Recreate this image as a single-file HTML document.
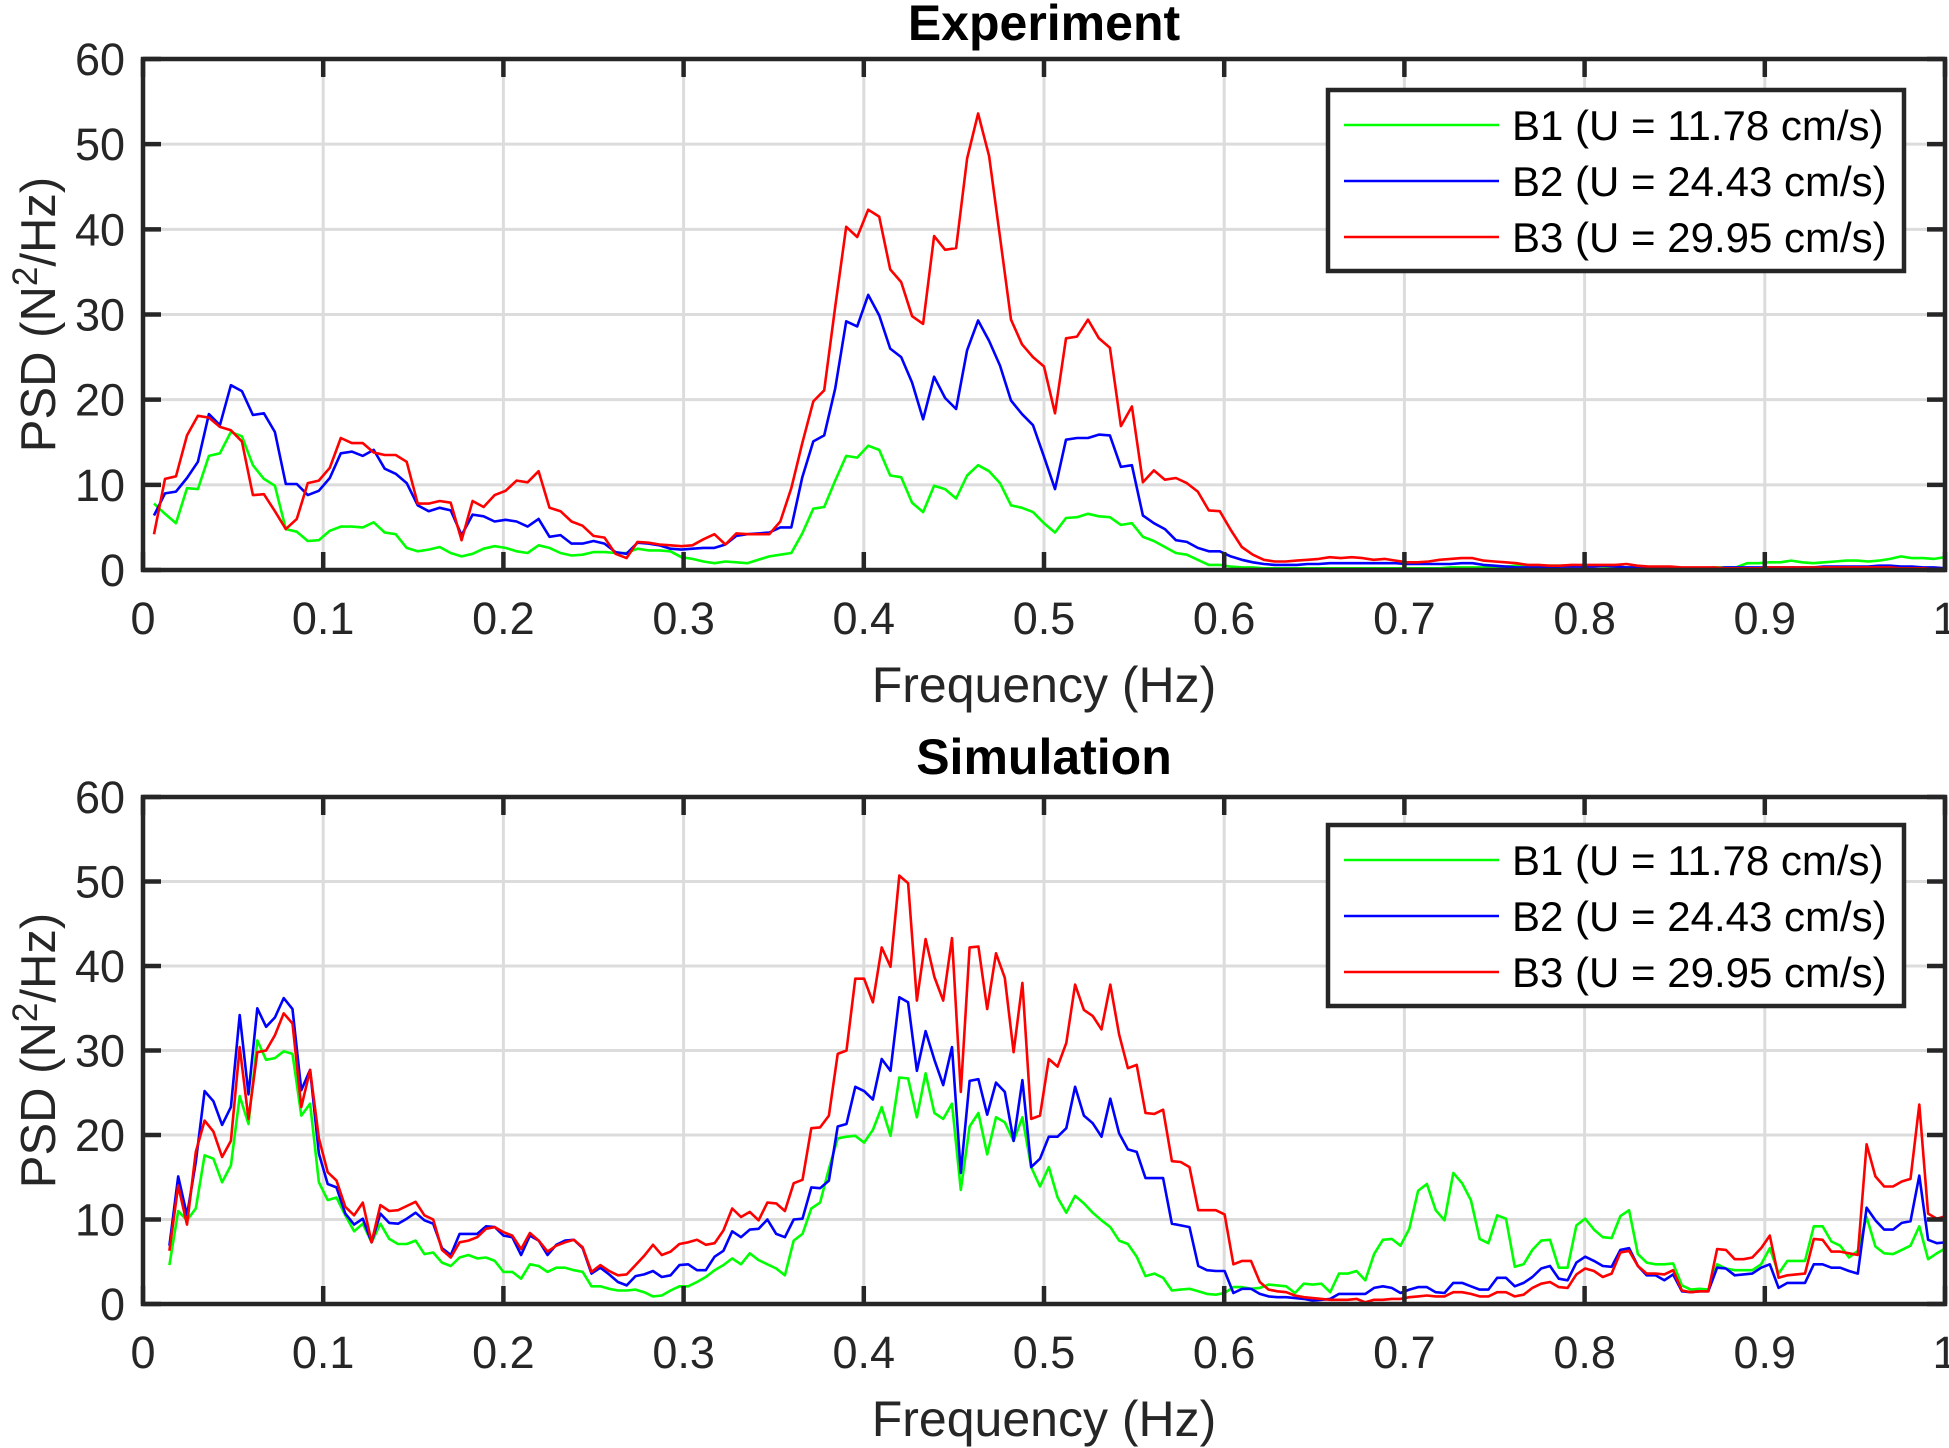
<!DOCTYPE html>
<html><head><meta charset="utf-8"><title>PSD</title>
<style>
html,body{margin:0;padding:0;background:#fff;}
svg{display:block;font-family:"Liberation Sans",Arial,sans-serif;}
</style></head>
<body>
<svg id="fig" width="1949" height="1448" viewBox="0 0 1949 1448" xmlns="http://www.w3.org/2000/svg"></svg>
<script>
// ---------- Data ----------
const expDf = 1/164;            // experiment frequency step (Hz)
const expIdx0 = 1;              // first index
const expB1 = [7.8,6.6,5.5,9.6,9.5,13.4,13.7,16.2,15.7,12.3,10.7,9.9,4.8,4.5,3.4,3.5,4.6,5.1,5.1,5.0,5.6,4.4,4.2,2.6,2.2,2.4,2.7,2.0,1.6,1.9,2.5,2.8,2.6,2.2,2.0,2.9,2.6,2.0,1.7,1.8,2.1,2.1,2.0,2.0,2.5,2.3,2.3,2.2,1.5,1.3,1.0,0.8,1.0,0.9,0.8,1.2,1.6,1.8,2.0,4.3,7.2,7.4,10.5,13.4,13.2,14.6,14.1,11.1,10.9,7.9,6.8,9.9,9.5,8.4,11.1,12.3,11.6,10.2,7.6,7.3,6.8,5.5,4.4,6.1,6.2,6.6,6.3,6.2,5.3,5.5,3.9,3.4,2.7,2.0,1.8,1.2,0.6,0.6,0.4,0.3,
0.3,0.2,0.2,0.2,0.2,0.2,0.2,0.2, 0.2,0.2,0.2,0.2,0.2,0.2,0.2,0.2, 0.2,0.2,0.3,0.3,0.3,0.3,0.3,0.4, 0.5,0.5,0.5,0.5,0.5,0.5,0.5,0.5, 0.4,0.4,0.3,0.3,0.3,0.3,0.3,0.2, 0.2,0.2,0.3,0.3,0.3,0.8,0.8,0.9, 0.9,1.1,0.9,0.8,0.9,1.0,1.1,1.1, 1.0,1.1,1.3,1.6,1.4,1.4,1.3,1.5];
const expB2 = [6.4,9.0,9.2,10.8,12.7,18.3,17.0,21.7,21.0,18.2,18.4,16.2,10.1,10.1,8.8,9.3,10.8,13.7,13.9,13.4,14.1,11.9,11.3,10.2,7.6,6.9,7.3,7.0,4.1,6.5,6.3,5.7,5.9,5.7,5.1,6.0,3.9,4.1,3.1,3.1,3.4,3.1,2.1,1.9,3.2,3.1,2.9,2.5,2.4,2.5,2.6,2.6,3.0,4.0,4.2,4.3,4.4,5.0,5.0,10.9,15.1,15.8,21.3,29.2,28.6,32.3,29.9,26.0,25.0,22.0,17.7,22.7,20.2,18.9,25.8,29.3,26.9,24.0,19.9,18.3,17.0,13.3,9.5,15.3,15.5,15.5,15.9,15.8,12.1,12.3,6.4,5.5,4.8,3.5,3.3,2.6,2.2,2.2,1.6,1.2,
0.9,0.7,0.6,0.6,0.6,0.7,0.7,0.8, 0.8,0.8,0.8,0.8,0.8,0.8,0.7,0.7, 0.7,0.7,0.7,0.8,0.8,0.6,0.5,0.4, 0.3,0.3,0.3,0.3,0.4,0.4,0.4,0.4, 0.5,0.4,0.3,0.3,0.3,0.3,0.2,0.2, 0.2,0.2,0.2,0.3,0.3,0.3,0.3,0.3, 0.3,0.3,0.3,0.3,0.4,0.4,0.4,0.4, 0.4,0.5,0.5,0.4,0.4,0.3,0.3,0.2];
const expB3 = [4.2,10.7,11.0,15.8,18.1,17.9,16.8,16.4,15.1,8.8,8.9,6.9,4.8,6.0,10.2,10.5,12.0,15.5,14.9,14.9,13.8,13.5,13.5,12.7,7.8,7.8,8.1,7.9,3.5,8.1,7.4,8.8,9.3,10.5,10.3,11.6,7.3,6.9,5.7,5.2,4.0,3.8,1.9,1.4,3.3,3.2,3.0,2.9,2.8,2.9,3.6,4.2,3.0,4.3,4.2,4.2,4.2,5.7,9.6,14.9,19.8,21.1,30.9,40.3,39.1,42.3,41.5,35.3,33.8,29.8,28.9,39.2,37.6,37.8,48.3,53.6,48.6,39.1,29.4,26.5,25.0,23.9,18.4,27.2,27.4,29.4,27.2,26.1,16.9,19.2,10.3,11.7,10.6,10.8,10.2,9.2,7.0,6.9,4.7,2.7,
1.8,1.2,1.0,1.0,1.1,1.2,1.3,1.5, 1.4,1.5,1.4,1.2,1.3,1.1,0.9,0.9, 1.0,1.2,1.3,1.4,1.4,1.1,1.0,0.9, 0.8,0.6,0.6,0.5,0.5,0.6,0.6,0.6, 0.6,0.6,0.7,0.5,0.4,0.4,0.4,0.3, 0.3,0.3,0.3,0.2,0.2,0.2,0.2,0.3, 0.3,0.3,0.3,0.3,0.3,0.3,0.3,0.3, 0.3,0.3,0.3,0.2,0.2,0.2,0.1,0.1];

const simDf = 0.00488;          // simulation frequency step (Hz)
const simIdx0 = 3;
const simB1 = [4.6,11.0,9.9,11.3,17.6,17.2,14.4,16.4,24.6,21.3,31.2,28.9,29.1,29.9,29.6,22.3,23.7,14.4,12.3,12.6,10.5,8.6,9.5,7.3,9.5,7.7,7.1,7.1,7.5,5.9,6.1,4.9,4.5,5.5,5.8,5.4,5.5,5.1,3.8,3.8,3.0,4.7,4.5,3.8,4.3,4.3,4.0,3.8,2.1,2.1,1.8,1.6,1.6,1.7,1.4,0.9,1.0,1.6,2.1,2.1,2.6,3.2,4.0,4.6,5.4,4.7,6.0,5.2,
4.7,4.2,3.4,7.5,8.3,11.3,12.0,16.0,19.6,19.8,19.9,19.1,20.6,23.3,19.9,26.8,26.7,22.1,27.3,22.6,21.9,23.7,13.5,21.0,22.6,17.7,22.1,21.5,19.3,22.1,16.2,13.9,16.2,12.6,10.8,12.8,11.9,10.8,9.9,9.1,7.5,7.1,5.6,3.3,3.6,3.1,1.6,1.7,1.8,1.5,1.2,1.1,1.3,2.0,2.0,
1.8,1.9,2.3,2.2,2.1,1.3,2.4,2.3,2.4,1.4,3.6,3.6,3.9,2.8,5.9,7.6,7.7,6.9,8.9,13.4,14.2,11.1,9.9,15.5,14.3,12.3,7.7,7.2,10.5,10.1,4.4,4.7,6.4,7.5,7.6,4.3,4.3,9.3,10.1,8.8,7.9,7.8,10.4,11.1,5.9,4.9,4.7,4.7,4.8,2.2,1.7,1.8,1.7,4.7,4.2,4.0,4.0,4.0,4.7,6.6,3.6,5.1,5.1,5.1,9.2,9.2,7.4,6.9,5.5,6.3,10.3,6.8,6.0,5.9,6.4,6.9,9.2,5.3,6.0,6.6];
const simB2 = [6.9,15.1,10.5,16.8,25.2,24.0,21.2,23.3,34.2,24.8,35.0,32.8,33.9,36.2,34.9,25.3,27.7,17.8,14.2,13.8,10.7,9.4,10.1,7.3,10.7,9.6,9.5,10.1,10.8,9.9,9.5,6.6,5.8,8.3,8.3,8.3,9.2,9.1,8.1,7.9,5.8,8.1,7.5,5.8,7.0,7.5,7.6,6.6,3.6,4.3,3.5,2.6,2.2,3.3,3.5,3.9,3.2,3.4,4.6,4.7,4.0,4.0,5.6,6.3,8.6,7.9,8.8,8.9,
10.0,8.3,7.9,10.0,10.1,13.8,13.7,14.6,21.0,21.3,25.7,25.2,24.2,29.0,27.6,36.3,35.7,27.6,32.3,28.9,25.9,30.4,15.5,26.4,26.6,22.4,26.2,25.1,19.3,26.5,16.2,17.2,19.8,19.8,20.8,25.7,22.3,21.4,19.8,24.3,20.2,18.3,18.0,14.9,14.9,14.9,9.5,9.3,9.1,4.5,4.0,3.9,3.9,1.3,1.8,
1.8,1.2,0.9,0.8,0.8,0.7,0.6,0.4,0.5,0.6,1.2,1.2,1.2,1.2,1.9,2.1,1.9,1.3,1.7,2.0,2.0,1.4,1.3,2.5,2.5,2.1,1.7,1.7,3.1,3.1,2.1,2.5,3.2,4.2,4.5,3.0,2.8,4.9,5.6,5.1,4.5,4.4,6.4,6.6,4.5,3.4,3.4,2.8,3.5,1.5,1.4,1.5,1.5,4.3,4.2,3.4,3.5,3.6,4.3,4.7,1.9,2.5,2.5,2.5,4.7,4.7,4.3,4.3,3.9,3.6,11.4,9.9,8.8,8.8,9.6,9.8,15.2,7.6,7.2,7.3];
const simB3 = [6.3,14.0,9.4,18.0,21.7,20.4,17.4,19.3,30.4,21.9,29.8,30.0,31.8,34.4,33.2,23.3,27.7,19.6,15.6,14.6,11.5,10.5,12.0,7.3,11.7,11.0,11.1,11.6,12.1,10.5,10.0,6.4,5.5,7.3,7.5,7.9,8.9,9.1,8.5,8.1,6.5,8.4,7.5,6.2,6.9,7.3,7.6,6.7,3.8,4.6,3.9,3.4,3.5,4.6,5.7,7.0,5.8,6.2,7.1,7.3,7.6,7.0,7.2,8.7,11.3,10.3,10.9,9.9,
12.0,11.9,11.0,14.3,14.7,20.8,20.9,22.3,29.6,30.0,38.5,38.5,35.7,42.2,39.9,50.7,49.8,35.9,43.2,38.7,35.9,43.3,25.1,42.2,42.3,34.9,41.5,38.6,29.8,38.0,21.9,22.3,29.0,28.1,30.9,37.8,34.8,34.1,32.5,37.8,31.9,27.9,28.3,22.6,22.5,23.0,16.9,16.8,16.2,11.1,11.1,11.1,10.6,4.7,5.1,
5.1,2.6,1.7,1.5,1.4,1.0,0.8,0.7,0.6,0.5,0.5,0.5,0.6,0.2,0.5,0.5,0.6,0.6,0.8,0.9,1.0,0.9,0.9,1.4,1.4,1.2,0.9,0.9,1.4,1.4,0.9,1.1,1.9,2.4,2.6,2.0,1.9,3.5,4.2,3.9,3.2,3.6,6.1,6.3,4.5,3.6,3.6,3.5,4.0,1.6,1.4,1.5,1.5,6.5,6.4,5.3,5.3,5.5,6.6,8.1,3.1,3.4,3.5,3.6,7.7,7.6,6.2,6.2,6.0,5.8,18.9,15.1,13.9,13.9,14.5,14.8,23.6,10.7,10.1,10.4];

const xTicks = [0,0.1,0.2,0.3,0.4,0.5,0.6,0.7,0.8,0.9,1];
const xTickLabels = ["0","0.1","0.2","0.3","0.4","0.5","0.6","0.7","0.8","0.9","1"];
const yTicks = [0,10,20,30,40,50,60];
const yTickLabels = ["0","10","20","30","40","50","60"];
const legendLabels = ["B1 (U = 11.78 cm/s)","B2 (U = 24.43 cm/s)","B3 (U = 29.95 cm/s)"];
const seriesColors = ["#00ff00","#0000ff","#ff0000"];

// ---------- Drawing ----------
const NS = "http://www.w3.org/2000/svg";
const svg = document.getElementById("fig");
function mk(tag, attrs, parent){
  const e = document.createElementNS(NS, tag);
  for (const k in attrs) e.setAttribute(k, attrs[k]);
  (parent||svg).appendChild(e);
  return e;
}
const L = 143, R = 1945;
const panels = [
  {key:"experiment", title:"Experiment", top:59, bot:570, titleY:40, tickY:634, xlabY:702, legTop:90,
   df:expDf, i0:expIdx0, series:[expB1,expB2,expB3]},
  {key:"simulation", title:"Simulation", top:797, bot:1304, titleY:774, tickY:1368, xlabY:1436, legTop:825,
   df:simDf, i0:simIdx0, series:[simB1,simB2,simB3]}
];

panels.forEach((p, pi) => {
  const g = mk("g", {});
  
  
  const xs = f => L + (R - L) * f;
  const ys = v => p.bot - (p.bot - p.top) * v / 60;

  const grid = mk("g", {}, g);
  
  
  xTicks.forEach(t => { if (t > 0 && t < 1) {
    const l = mk("line", {x1:xs(t), x2:xs(t), y1:p.top, y2:p.bot, stroke:"#dcdcdc", "stroke-width":3}, grid);
    
    
  }});
  yTicks.forEach(t => { if (t > 0 && t < 60) {
    const l = mk("line", {x1:L, x2:R, y1:ys(t), y2:ys(t), stroke:"#dcdcdc", "stroke-width":3}, grid);
    
    
  }});

  const cp = mk("clipPath", {id:"clip" + pi}, g);
  mk("rect", {x:L, y:p.top, width:R - L, height:p.bot - p.top}, cp);

  p.series.forEach((vals, si) => {
    const pts = vals.map((v, k) => xs((p.i0 + k) * p.df).toFixed(1) + "," + ys(v).toFixed(1)).join(" ");
    const pl = mk("polyline", {points:pts, fill:"none", stroke:seriesColors[si], "stroke-width":2.6, "stroke-linejoin":"round", "clip-path":"url(#clip" + pi + ")"}, g);
    
    
  });

  const box = mk("rect", {x:L, y:p.top, width:R - L, height:p.bot - p.top, fill:"none", stroke:"#262626", "stroke-width":4.5}, g);
  
  

  xTicks.forEach((t, k) => {
    mk("line", {x1:xs(t), x2:xs(t), y1:p.bot, y2:p.bot - 18, stroke:"#262626", "stroke-width":4.5}, g);
    mk("line", {x1:xs(t), x2:xs(t), y1:p.top, y2:p.top + 18, stroke:"#262626", "stroke-width":4.5}, g);
    const tx = mk("text", {x:xs(t), y:p.tickY, "font-size":45, "text-anchor":"middle", fill:"#262626"}, g);
    tx.textContent = xTickLabels[k];
    
    
  });
  yTicks.forEach((t, k) => {
    mk("line", {x1:L, x2:L + 18, y1:ys(t), y2:ys(t), stroke:"#262626", "stroke-width":4.5}, g);
    mk("line", {x1:R, x2:R - 18, y1:ys(t), y2:ys(t), stroke:"#262626", "stroke-width":4.5}, g);
    const ty = mk("text", {x:125, y:ys(t) + 16, "font-size":45, "text-anchor":"end", fill:"#262626"}, g);
    ty.textContent = yTickLabels[k];
    
    
  });

  const tt = mk("text", {x:1044, y:p.titleY, "font-size":50, "font-weight":"bold", "text-anchor":"middle", fill:"#000"}, g);
  tt.textContent = p.title;
  
  
  const xl = mk("text", {x:1044, y:p.xlabY, "font-size":50, "text-anchor":"middle", fill:"#262626"}, g);
  xl.textContent = "Frequency (Hz)";
  
  
  const cy = (p.top + p.bot) / 2;
  const yl = mk("text", {x:0, y:0, "font-size":49, "text-anchor":"middle", fill:"#262626", transform:"translate(55," + cy + ") rotate(-90)"}, g);
  
  
  yl.appendChild(document.createTextNode("PSD (N"));
  const sup = mk("tspan", {dy:-18, "font-size":35}, yl);
  sup.textContent = "2";
  const rest = mk("tspan", {dy:18}, yl);
  rest.textContent = "/Hz)";

  const lg = mk("g", {}, g);
  
  
  mk("rect", {x:1328, y:p.legTop, width:576, height:181, fill:"#fff", stroke:"#262626", "stroke-width":4.5}, lg);
  legendLabels.forEach((lab, k) => {
    const ry = p.legTop + 35 + k * 56;
    const e = mk("g", {}, lg);
    
    
    mk("line", {x1:1344, x2:1499, y1:ry, y2:ry, stroke:seriesColors[k], "stroke-width":2.6}, e);
    const t = mk("text", {x:1512, y:ry + 15, "font-size":42, fill:"#000"}, e);
    t.textContent = lab;
  });
});
</script>
</body></html>
